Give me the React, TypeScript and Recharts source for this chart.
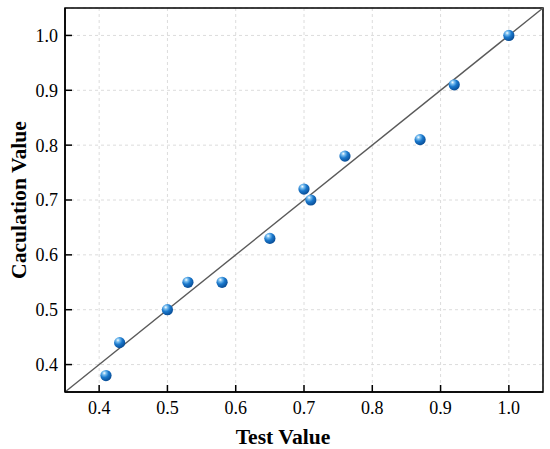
import React from "react"
import {
  ScatterChart,
  Scatter,
  XAxis,
  YAxis,
  CartesianGrid,
  ReferenceLine,
  ReferenceArea,
} from "recharts"

const testValues = [0.41, 0.43, 0.5, 0.53, 0.58, 0.65, 0.7, 0.71, 0.76, 0.87, 0.92, 1.0]
const calcValues = [0.38, 0.44, 0.5, 0.55, 0.55, 0.63, 0.72, 0.7, 0.78, 0.81, 0.91, 1.0]
const axisTicks = [0.4, 0.5, 0.6, 0.7, 0.8, 0.9, 1.0]
const axisDomain = [0.35, 1.05]

const points = testValues.map((x, i) => ({ x, y: calcValues[i] }))

const font = "Liberation Serif"
const tickStyle = { fill: "#000", fontSize: 18, fontFamily: font }
const titleStyle = { fill: "#000", fontSize: 21.6, fontWeight: "bold", fontFamily: font }

function Ball(props: any) {
  const { cx, cy, index } = props
  const id = `ball-${index}`
  return (
    <g>
      <defs>
        <radialGradient id={id} cx="35%" cy="30%" r="70%" fx="35%" fy="28%">
          <stop offset="0%" stopColor="#ffffff" />
          <stop offset="22%" stopColor="#7cc0f0" />
          <stop offset="55%" stopColor="#1a78cc" />
          <stop offset="100%" stopColor="#0a4f98" />
        </radialGradient>
      </defs>
      <circle cx={cx} cy={cy} r={5.6} fill={`url(#${id})`} />
    </g>
  )
}

const fmt = (v: number) => v.toFixed(1)

export default function App() {
  return (
    <div style={{ position: "absolute", left: 0, top: 0, width: 550, height: 449, background: "#fff" }}>
      <ScatterChart width={550} height={449} margin={{ top: 8, right: 7, left: 0, bottom: 0 }}>
        <CartesianGrid stroke="#dcdcdc" strokeDasharray="3 3" />
        <XAxis
          type="number"
          dataKey="x"
          domain={axisDomain}
          ticks={axisTicks}
          tickFormatter={fmt}
          height={57}
          tickSize={-7}
          tickMargin={16}
          stroke="#000"
          strokeWidth={1.5}
          tick={tickStyle}
          label={{ value: "Test Value", position: "insideBottom", offset: 5, dx: -21, ...titleStyle }}
        />
        <YAxis
          type="number"
          dataKey="y"
          domain={axisDomain}
          ticks={axisTicks}
          tickFormatter={fmt}
          width={65}
          tickSize={-7}
          tickMargin={14}
          stroke="#000"
          strokeWidth={1.5}
          tick={tickStyle}
          label={{
            value: "Caculation Value",
            angle: -90,
            position: "insideLeft",
            offset: 18,
            textAnchor: "middle",
            ...titleStyle,
          }}
        />
        <ReferenceArea
          x1={axisDomain[0]}
          x2={axisDomain[1]}
          y1={axisDomain[0]}
          y2={axisDomain[1]}
          fill="none"
          stroke="#000"
          strokeWidth={1.5}
        />
        <ReferenceLine
          segment={[
            { x: axisDomain[0], y: axisDomain[0] },
            { x: axisDomain[1], y: axisDomain[1] },
          ]}
          stroke="#5a5a5a"
          strokeWidth={1.4}
        />
        <Scatter data={points} shape={<Ball />} isAnimationActive={false} />
      </ScatterChart>
    </div>
  )
}
